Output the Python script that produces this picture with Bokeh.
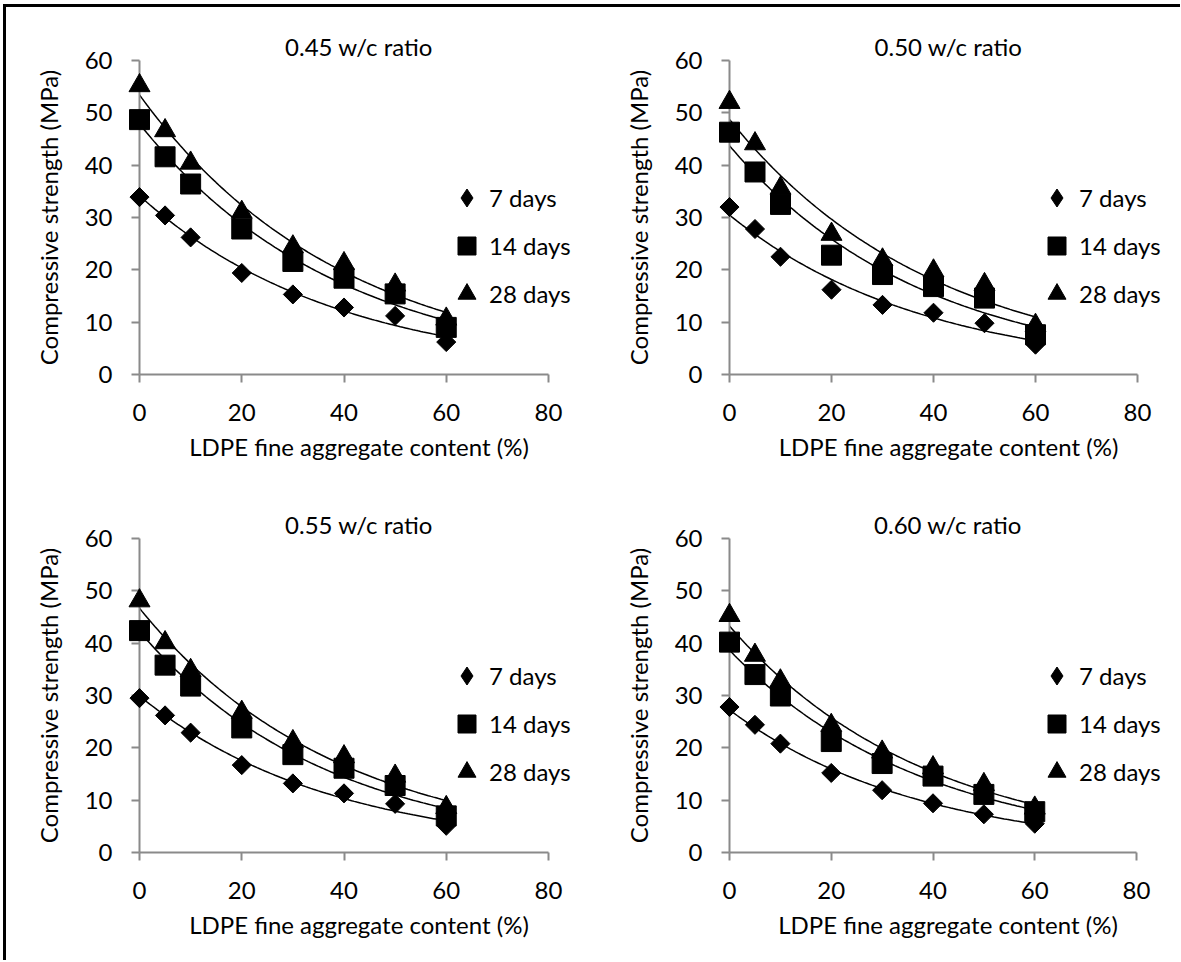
import numpy as np
from bokeh.plotting import figure
from bokeh.layouts import gridplot
from bokeh.models import Range1d, SingleIntervalTicker, Legend, LegendItem
from bokeh.embed import file_html
from bokeh.resources import INLINE

# ---------------- data ----------------
ldpe = [0, 5, 10, 20, 30, 40, 50, 60]
ages = ["7 days", "14 days", "28 days"]
titles = ["0.45 w/c ratio", "0.50 w/c ratio", "0.55 w/c ratio", "0.60 w/c ratio"]

wc045_7d = [33.9, 30.4, 26.2, 19.4, 15.3, 12.8, 11.2, 6.2]
wc045_14d = [48.7, 41.6, 36.4, 27.8, 21.6, 18.4, 15.4, 9.0]
wc045_28d = [55.2, 46.6, 40.4, 31.0, 24.4, 21.2, 17.1, 10.6]

wc050_7d = [32.0, 27.8, 22.5, 16.2, 13.3, 11.8, 9.8, 5.7]
wc050_14d = [46.3, 38.7, 32.5, 22.8, 19.1, 16.8, 14.6, 7.6]
wc050_28d = [52.0, 44.1, 35.6, 26.8, 21.9, 19.8, 17.2, 9.4]

wc055_7d = [29.5, 26.2, 22.9, 16.7, 13.2, 11.3, 9.3, 5.1]
wc055_14d = [42.4, 35.8, 31.8, 23.8, 18.7, 16.1, 12.8, 7.0]
wc055_28d = [48.1, 40.1, 34.8, 26.8, 21.2, 18.3, 14.6, 8.6]

wc060_7d = [27.8, 24.4, 20.8, 15.2, 11.9, 9.4, 7.3, 5.5]
wc060_14d = [40.2, 34.0, 29.9, 21.2, 17.0, 14.6, 11.1, 7.8]
wc060_28d = [45.3, 37.7, 32.8, 24.3, 19.2, 16.2, 13.0, 8.5]

X_MAX = 80
Y_MAX = 60
FONT = "Lato"
FS = "24px"
AXIS_GREY = "#8a8a8a"
EXTRA = 30  # extra frame room on the right so the legend text is not clipped


def exp_trend(x, y):
    b, lna = np.polyfit(np.asarray(x, float), np.log(np.asarray(y, float)), 1)
    xs = np.linspace(min(x), max(x), 121)
    return xs, np.exp(lna) * np.exp(b * xs)


def panel(title, s7, s14, s28, w, h, left, top, fw0, fh=314):
    fw = fw0 + EXTRA
    p = figure(frame_width=fw, frame_height=fh,
               min_border_left=left, min_border_top=top,
               min_border_right=w - left - fw, min_border_bottom=h - top - fh,
               x_range=Range1d(0, X_MAX * fw / fw0), y_range=Range1d(0, Y_MAX),
               output_backend="svg", toolbar_location=None,
               background_fill_color="white", border_fill_color="white")
    p.outline_line_color = None
    p.xgrid.visible = False
    p.ygrid.visible = False

    p.title.text = title
    p.title.align = "center"
    p.title.text_font = FONT
    p.title.text_font_size = FS
    p.title.text_font_style = "normal"
    p.title.text_color = "black"
    p.title.standoff = 0
    p.title.offset = -10

    p.xaxis.ticker = SingleIntervalTicker(interval=20)
    p.yaxis.ticker = SingleIntervalTicker(interval=10)
    p.xaxis.bounds = (0, X_MAX)
    p.xaxis.axis_label = "LDPE fine aggregate content (%)"
    p.yaxis.axis_label = "Compressive strength (MPa)"
    for ax in (p.xaxis, p.yaxis):
        ax.axis_line_color = AXIS_GREY
        ax.axis_line_width = 2
        ax.major_tick_line_color = AXIS_GREY
        ax.major_tick_line_width = 2
        ax.major_tick_in = 0
        ax.major_tick_out = 8
        ax.minor_tick_line_color = None
        ax.major_label_text_font = FONT
        ax.major_label_text_font_size = FS
        ax.major_label_text_color = "black"
        ax.axis_label_text_font = FONT
        ax.axis_label_text_font_size = FS
        ax.axis_label_text_font_style = "normal"
        ax.axis_label_text_color = "black"
    p.xaxis.major_label_standoff = 21
    p.yaxis.major_label_standoff = 19
    p.xaxis.axis_label_standoff = 8
    p.yaxis.axis_label_standoff = 19

    for s in (s7, s14, s28):
        xs, ys = exp_trend(ldpe, s)
        p.line(xs, ys, line_color="black", line_width=1.5)

    # legend stand-in for the diamond (hidden under the real diamonds)
    proxy7 = p.scatter(ldpe, s7, marker="diamond", size=9,
                       fill_color="black", line_color="black", level="overlay")
    p.scatter(ldpe, s7, marker="square", angle=np.pi / 4, size=13.5,
              fill_color="black", line_color="black", level="overlay")
    r28 = p.scatter(ldpe, s28, marker="triangle", size=21,
                    fill_color="black", line_color="black", level="overlay")
    r14 = p.scatter(ldpe, s14, marker="square", size=20,
                    fill_color="black", line_color="black", level="overlay")

    leg = Legend(items=[LegendItem(label=ages[0], renderers=[proxy7]),
                        LegendItem(label=ages[1], renderers=[r14]),
                        LegendItem(label=ages[2], renderers=[r28])],
                 location=(305, 58), glyph_width=45, glyph_height=45,
                 spacing=3, padding=0, margin=0, label_standoff=-9,
                 label_text_font=FONT, label_text_font_size=FS,
                 label_text_color="black",
                 background_fill_alpha=0, border_line_alpha=0)
    p.add_layout(leg)
    return p


p1 = panel(titles[0], wc045_7d, wc045_14d, wc045_28d, w=584, h=461, left=133, top=53, fw0=409)
p2 = panel(titles[1], wc050_7d, wc050_14d, wc050_28d, w=590, h=461, left=136, top=53, fw0=408)
p3 = panel(titles[2], wc055_7d, wc055_14d, wc055_28d, w=584, h=492, left=130, top=70, fw0=409)
p4 = panel(titles[3], wc060_7d, wc060_14d, wc060_28d, w=590, h=492, left=139, top=70, fw0=407)

grid = gridplot([[p1, p2], [p3, p4]], toolbar_location=None)
grid.styles = {"border-top": "3px solid black", "border-left": "3px solid black",
               "margin-left": "3px", "margin-top": "4px"}

open("out.html", "w").write(file_html(grid, INLINE))
